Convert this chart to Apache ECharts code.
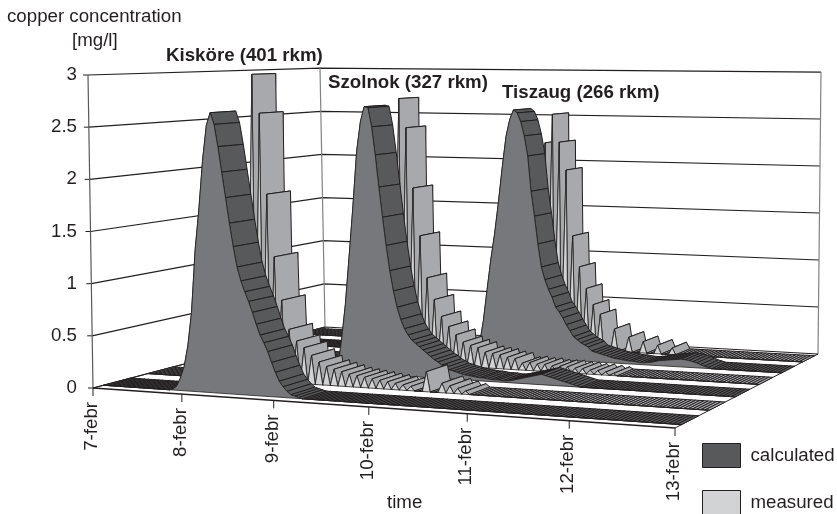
<!DOCTYPE html>
<html><head><meta charset="utf-8">
<style>html,body{margin:0;padding:0;background:#fff}#c{width:837px;height:514px}</style>
<script src="https://cdn.jsdelivr.net/npm/echarts@6/dist/echarts.min.js"></script>
</head><body><div id="c"></div>
<script>
// ---- data (hour index counted from 7-febr 00:00) ----
const dateLabels = ['7-febr','8-febr','9-febr','10-febr','11-febr','12-febr','13-febr'];
const yTicks = [0,0.5,1,1.5,2,2.5,3];
const kiskoreCalcStart = 19;
const kiskoreCalc = [.01,.04,.12,.23,.43,.75,1.35,1.73,2.2,2.53,2.65,2.54,2.33,2.09,1.85,1.61,1.39,1.2,1.07,.97,.88,.78,.67,.57,.5,.42,.32,.23,.15,.1,.06,.03,.02,.01];
const kiskoreMeasHours = [29,31,33,35,37,39,41,43,45,47,49,51,53,55,57,59,61,63,65,67,69,71,75,79,81,83,85];
const kiskoreMeas = [3,2.62,1.83,1.22,.8,.52,.41,.35,.28,.22,.18,.16,.14,.12,.11,.1,.09,.08,.07,.06,.05,.04,.19,.09,.07,.05,.03];
const szolnokCalcStart = 41;
const szolnokCalc = [.01,.05,.33,.68,1.16,1.66,2.22,2.52,2.67,2.66,2.47,2.19,1.87,1.57,1.29,1.04,.84,.68,.56,.47,.41,.36,.33,.3,.27,.24,.21,.18,.16,.13,.11,.09,.08,.07,.06,.05,.045,.04,.035,.03,.03,.025,.02,.02,.02,.015,.015,.02,.03,.04,.05,.06,.07,.08,.09,.1,.09,.08,.07,.06,.05,.04,.03,.02,.01];
const szolnokMeasHours = [49,51,53,55,57,59,61,63,65,67,69,71,73,75,77,79,81,83,85,87,89,91,93,95,97,99,101,103,105,107];
const szolnokMeas = [2.73,2.43,1.81,1.32,.89,.67,.5,.4,.32,.25,.22,.2,.16,.15,.14,.12,.11,.07,.08,.07,.07,.06,.06,.06,.05,.05,.04,.04,.03,.02];
const tiszaugCalcStart = 61;
const tiszaugCalc = [.02,.05,.13,.37,.7,1.02,1.29,1.62,1.99,2.32,2.5,2.6,2.57,2.48,2.33,2.12,1.75,1.49,1.2,.96,.83,.73,.65,.55,.5,.44,.37,.31,.25,.22,.19,.17,.15,.11,.1,.09,.08,.07,.06,.05,.045,.04,.035,.03,.03,.025,.02,.02,.025,.03,.04,.05,.055,.06,.065,.07,.075,.08,.075,.07,.06,.05,.035,.02,.01];
const tiszaugMeasHours = [73,75,77,79,81,83,85,87,89,93,97,101,105,109];
const tiszaugMeas = [2.22,2.53,2.23,1.93,1.22,.89,.66,.49,.39,.24,.16,.12,.09,.07];
const LAST_HOUR = 144;

function fromRun(start, vals){ const a=[]; for(let h=0;h<=LAST_HOUR;h++){ const i=h-start; a.push(i>=0&&i<vals.length?vals[i]:0);} return a; }
function fromPairs(hrs, vals){ const a=[]; for(let h=0;h<=LAST_HOUR;h++){ const i=hrs.indexOf(h); a.push(i>=0?vals[i]:0);} return a; }

// row 0 is nearest the viewer
const rows = [
 {name:'calculated', values:fromRun(kiskoreCalcStart,kiskoreCalc)},
 {name:'measured',   values:fromPairs(kiskoreMeasHours,kiskoreMeas)},
 {name:'calculated', values:fromRun(szolnokCalcStart,szolnokCalc)},
 {name:'measured',   values:fromPairs(szolnokMeasHours,szolnokMeas)},
 {name:'calculated', values:fromRun(tiszaugCalcStart,tiszaugCalc)},
 {name:'measured',   values:fromPairs(tiszaugMeasHours,tiszaugMeas)}
];

// ---- camera: floor plane is a projective map of the unit square ----
const INK='#231f20', FONT_SIZE=18.7;
const COL={calculated:{front:'#77787b',side:'#58595b',legend:'#58595b'},measured:{front:'#d1d3d4',side:'#a7a9ac',legend:'#d1d3d4'}};
const FLOOR={fr:[675,428],br:[818,354],bl:[325,327]};
const ROW_FRONT=0.046, ROW_REAR=0.055;
const FRAME_LEAN=[-5,8], MARK_LEAN=[-2,8], GRID={left:93,right:162,top:75,bottom:126};

function projector(api,lean){
  const o=api.coord([0,0]), e=api.coord([LAST_HOUR,0]), t3=api.coord([0,3]);
  const [x0,y0]=o,[x1,y1]=FLOOR.fr,[x2,y2]=FLOOR.br,[x3,y3]=FLOOR.bl;
  const dx1=x1-x2,dx2=x3-x2,sx=x0-x1+x2-x3,dy1=y1-y2,dy2=y3-y2,sy=y0-y1+y2-y3;
  const den=dx1*dy2-dx2*dy1;
  const g=(sx*dy2-dx2*sy)/den,h=(dx1*sy-sx*dy1)/den;
  const a=x1-x0+g*x1,b=x3-x0+h*x3,D=y1-y0+g*y1,E=y3-y0+h*y3;
  const full=o[1]-t3[1];
  return function(hour,d,v){
    const p=api.coord([hour,v]);
    const u=(p[0]-o[0])/(e[0]-o[0]);
    const H=o[1]-p[1];
    const w=1+g*u+h*d;
    return [(a*u+b*d+x0)/w+(H/full)*(lean[0]+lean[1]*u),(D*u+E*d+y0)/w-H/w];
  };
}
function line(pts,color,width){return {type:'polyline',shape:{points:pts},style:{fill:null,stroke:color,lineWidth:width},silent:true};}

function renderFrame(params,api){
  const P=projector(api,FRAME_LEAN), kids=[];
  yTicks.forEach(v=>{
    kids.push(line([P(0,0,v),P(0,1,v),P(LAST_HOUR,1,v)],INK,1.2));
    const q=P(0,0,v);
    kids.push(line([[q[0]-5,q[1]],q],INK,1));
  });
  kids.push(line([P(0,0,0),P(0,0,3)],'#58595b',1.2));
  kids.push(line([P(0,1,0),P(0,1,3)],'#808285',1.2));
  kids.push(line([P(LAST_HOUR,1,0),P(LAST_HOUR,1,3)],'#808285',1.2));
  kids.push(line([P(0,0,0),P(LAST_HOUR,0,0)],INK,1.6));
  kids.push(line([P(LAST_HOUR,0,0),P(LAST_HOUR,1,0)],INK,1));
  kids.push(line([P(0,0,0),P(0,1,0)],INK,1));
  dateLabels.forEach((t,i)=>{
    const q=P(i*24,0,0);
    kids.push(line([q,[q[0],q[1]+8]],INK,1));
    kids.push({type:'text',x:q[0]-1,y:q[1]+14,rotation:Math.PI/2,
      style:{text:t,align:'right',verticalAlign:'middle',fontFamily:'Liberation Sans',fontSize:FONT_SIZE,fill:INK},silent:true});
  });
  return {type:'group',children:kids};
}

function renderRow(rowIdx){
  const values=rows[rowIdx].values, col=COL[rows[rowIdx].name];
  const dc=(rowIdx+0.5)/rows.length, df=dc-ROW_FRONT, dr=dc+ROW_REAR;
  return function(params,api){
    const P=projector(api,MARK_LEAN), i=api.value(0), kids=[];
    if(i<LAST_HOUR){
      const v0=api.value(1), v1=values[i+1];
      kids.push({type:'polygon',shape:{points:[P(i,df,v0),P(i+1,df,v1),P(i+1,dr,v1),P(i,dr,v0)]},
        style:{fill:col.side,stroke:INK,lineWidth:1,lineJoin:'round'},silent:true});
    } else {
      const pts=[P(0,df,0)];
      values.forEach((v,h)=>pts.push(P(h,df,v)));
      pts.push(P(LAST_HOUR,df,0));
      kids.push({type:'polygon',shape:{points:pts},style:{fill:col.front,stroke:INK,lineWidth:0.8,lineJoin:'round'},silent:true});
    }
    return {type:'group',children:kids};
  };
}

const series=[{type:'custom',name:'frame',z:1,silent:true,data:[[0,0]],renderItem:renderFrame,clip:false,animation:false}];
for(let r=rows.length-1;r>=0;r--){
  series.push({type:'custom',name:rows[r].name,z:2+(rows.length-1-r),silent:true,clip:false,animation:false,
    itemStyle:{color:COL[rows[r].name].legend},
    encode:{x:0,y:1},
    data:rows[r].values.map((v,h)=>[h,v]),renderItem:renderRow(r)});
}
const txt=(s,left,cy,bold)=>({text:s,left:left,top:cy-10,padding:0,textStyle:{fontFamily:'Liberation Sans',fontSize:FONT_SIZE,lineHeight:21,fontWeight:bold?'bold':'normal',color:INK}});
const legendEntry=(name,top)=>({data:[name],orient:'vertical',left:702,top:top,padding:0,itemWidth:38,itemHeight:24,icon:'rect',selectedMode:false,
    itemStyle:{borderColor:INK,borderWidth:1},
    textStyle:{fontFamily:'Liberation Sans',fontSize:FONT_SIZE,color:INK,padding:[0,0,0,5]}});

const chart=echarts.init(document.getElementById('c'),null,{renderer:'canvas'});
chart.setOption({
  animation:false,backgroundColor:'#fff',
  grid:GRID,
  title:[txt('copper concentration',7,16),txt('[mg/l]',72,40),
    txt('Kisköre (401 rkm)',166,55,true),txt('Szolnok (327 rkm)',328,82,true),txt('Tiszaug (266 rkm)',502,92,true),
    txt('time',387,502)],
  legend:[legendEntry('calculated',443),legendEntry('measured',490)],
  xAxis:{type:'value',min:0,max:LAST_HOUR,interval:24,show:false},
  yAxis:{type:'value',min:0,max:3,interval:0.5,axisLine:{show:false},axisTick:{show:false},splitLine:{show:false},
    axisLabel:{margin:16,fontFamily:'Liberation Sans',fontSize:FONT_SIZE,color:INK}},
  series:series
});
</script></body></html>
